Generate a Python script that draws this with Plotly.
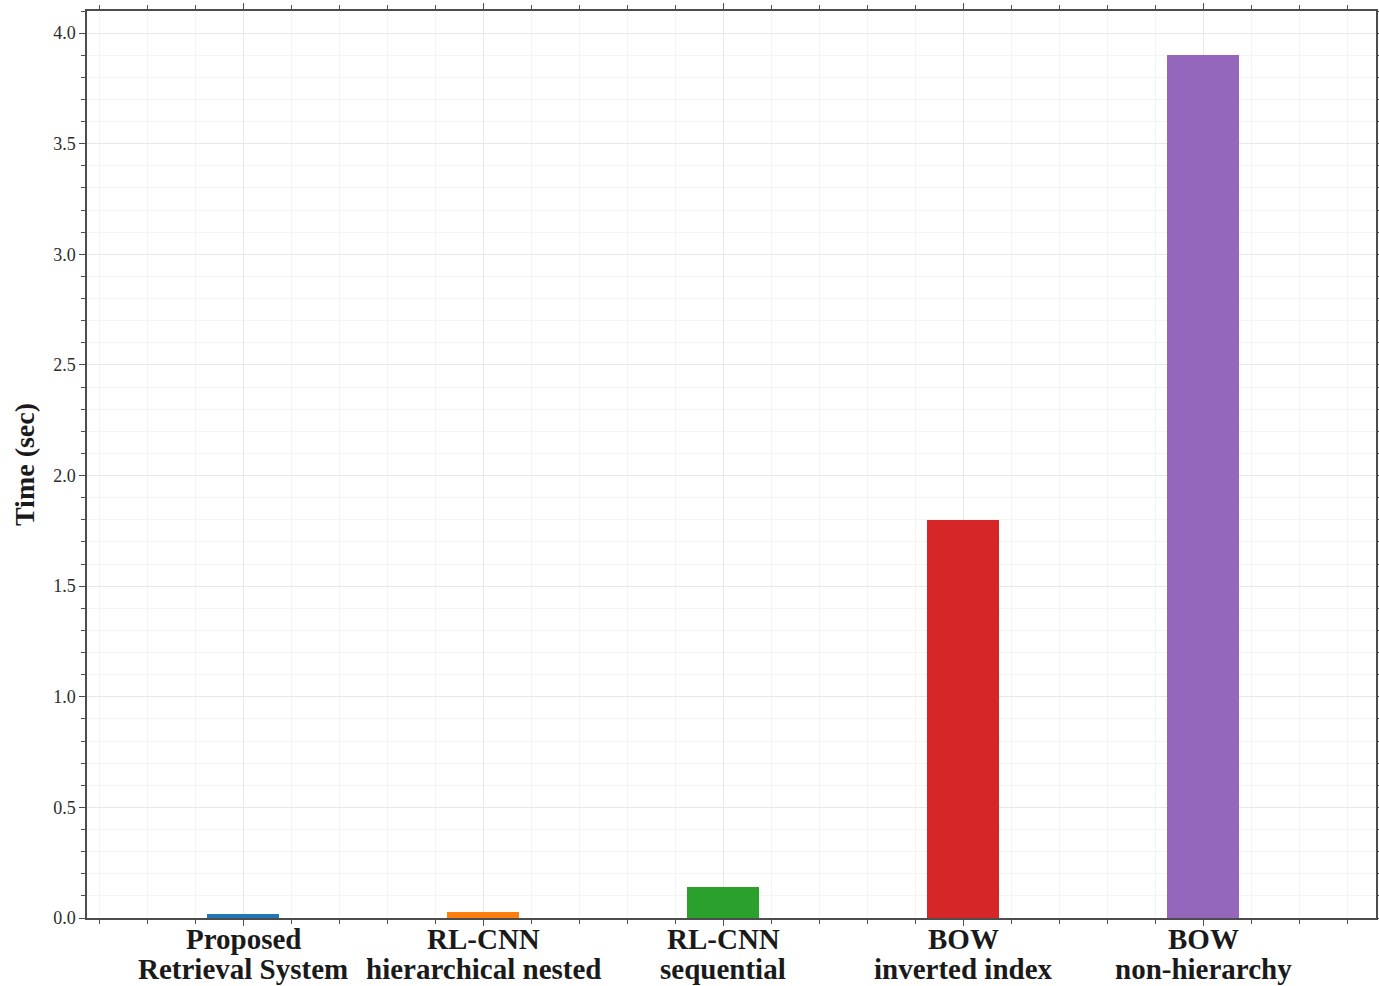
import plotly.graph_objects as go

# Retrieval time per method (two-line category labels)
label_line1 = ["Proposed", "RL-CNN", "RL-CNN", "BOW", "BOW"]
label_line2 = [
    "Retrieval System",
    "hierarchical nested",
    "sequential",
    "inverted index",
    "non-hierarchy",
]
times_sec = [0.02, 0.025, 0.14, 1.80, 3.90]
bar_colors = ["#1f77b4", "#ff7f0e", "#2ca02c", "#d62728", "#9467bd"]
y_tick_vals = [0.0, 0.5, 1.0, 1.5, 2.0, 2.5, 3.0, 3.5, 4.0]

positions = list(range(len(label_line1)))

fig = go.Figure(
    go.Bar(
        x=positions,
        y=times_sec,
        width=0.3,
        marker=dict(color=bar_colors, line=dict(width=0)),
        showlegend=False,
    )
)

axis_line = "#4d4d4d"
serif = "Liberation Serif, Times New Roman, serif"
label_font = dict(family=serif, size=29, color="#1a1a1a", weight="bold")

fig.update_xaxes(
    range=[-0.65, 4.72],
    tickmode="array",
    tickvals=positions,
    showticklabels=False,
    ticks="outside",
    ticklen=6,
    tickwidth=1.3,
    tickcolor=axis_line,
    showline=True,
    linecolor=axis_line,
    linewidth=1.5,
    mirror="ticks",
    showgrid=True,
    gridcolor="#e8e8e8",
    gridwidth=1,
    zeroline=False,
    minor=dict(
        tick0=0,
        dtick=0.2,
        ticks="outside",
        ticklen=4,
        tickwidth=1,
        tickcolor=axis_line,
        showgrid=True,
        gridcolor="#f4f4f4",
        gridwidth=1,
    ),
)

fig.update_yaxes(
    range=[0, 4.1],
    tickmode="array",
    tickvals=y_tick_vals,
    tickformat=".1f",
    tickfont=dict(family=serif, size=18, color="#2b2b2b"),
    ticks="outside",
    ticklen=6,
    tickwidth=1.3,
    tickcolor=axis_line,
    showline=True,
    linecolor=axis_line,
    linewidth=1.5,
    mirror="ticks",
    showgrid=True,
    gridcolor="#e8e8e8",
    gridwidth=1,
    zeroline=False,
    title=dict(
        text="Time (sec)",
        font=dict(family=serif, size=28, color="#1a1a1a", weight="bold"),
        standoff=10,
    ),
    minor=dict(
        tick0=0,
        dtick=0.1,
        ticks="outside",
        ticklen=4,
        tickwidth=1,
        tickcolor=axis_line,
        showgrid=True,
        gridcolor="#f4f4f4",
        gridwidth=1,
    ),
)

# Category labels placed under each bar position, two tightly spaced rows
annotations = []
for pos, top, bottom in zip(positions, label_line1, label_line2):
    annotations.append(dict(
        x=pos, xref="x", y=-0.0237, yref="paper",
        text=top, showarrow=False, xanchor="center", yanchor="middle",
        font=label_font,
    ))
    annotations.append(dict(
        x=pos, xref="x", y=-0.0557, yref="paper",
        text=bottom, showarrow=False, xanchor="center", yanchor="middle",
        font=label_font,
    ))

fig.update_layout(
    width=1379,
    height=986,
    margin=dict(l=87, r=3, t=11, b=68, autoexpand=False),
    paper_bgcolor="white",
    plot_bgcolor="white",
    bargap=0,
    annotations=annotations,
)

fig.write_html("out.html")
